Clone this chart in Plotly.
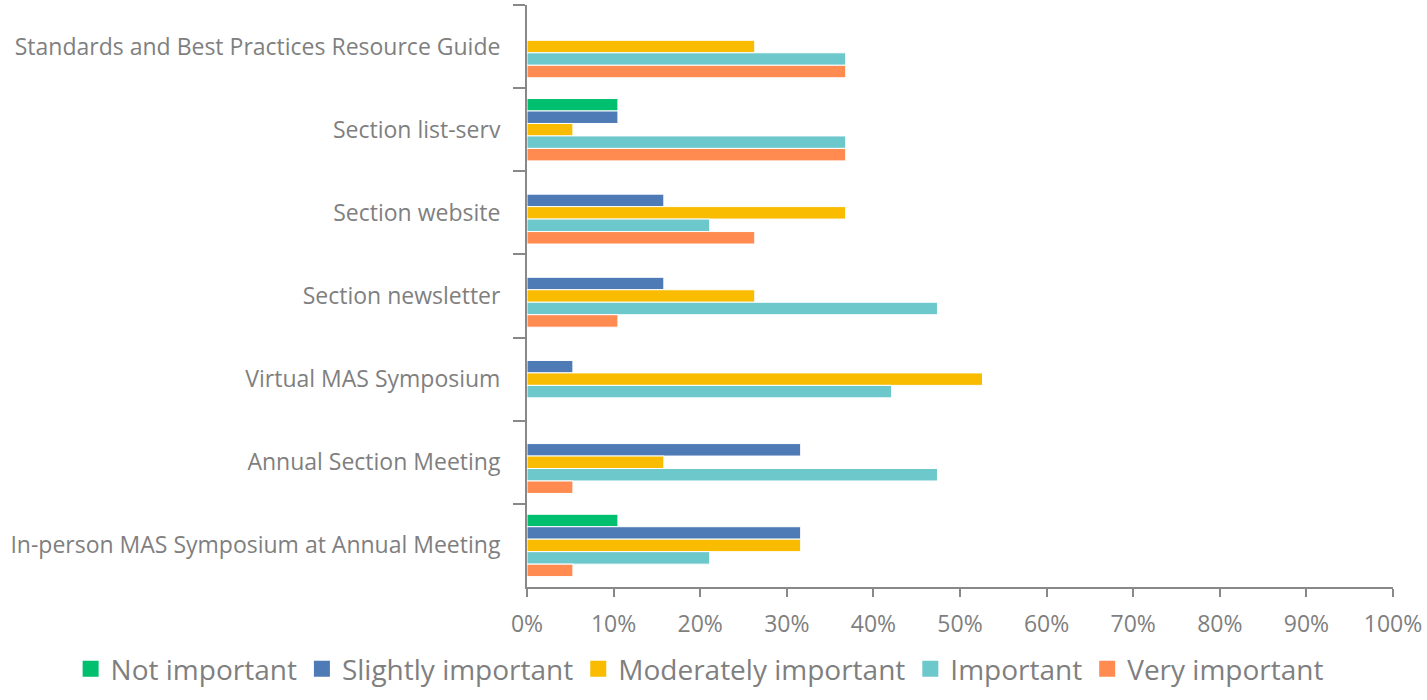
import plotly.graph_objects as go

categories = [
    "Standards and Best Practices Resource Guide",
    "Section list-serv",
    "Section website",
    "Section newsletter",
    "Virtual MAS Symposium",
    "Annual Section Meeting",
    "In-person MAS Symposium at Annual Meeting",
]
not_important = [0, 10.5, 0, 0, 0, 0, 10.5]
slightly_important = [0, 10.5, 15.8, 15.8, 5.3, 31.6, 31.6]
moderately_important = [26.3, 5.3, 36.8, 26.3, 52.6, 15.8, 31.6]
important = [36.8, 36.8, 21.1, 47.4, 42.1, 47.4, 21.1]
very_important = [36.8, 36.8, 26.3, 10.5, 0, 5.3, 5.3]

series = [
    ("Not important", not_important, "#00BF6F"),
    ("Slightly important", slightly_important, "#4E7AB5"),
    ("Moderately important", moderately_important, "#F9BC00"),
    ("Important", important, "#6CC8CB"),
    ("Very important", very_important, "#FF8B50"),
]

fig = go.Figure()
for name, vals, color in series:
    fig.add_trace(go.Bar(
        y=categories, x=[v / 100 for v in vals], name=name, orientation="h",
        marker=dict(color=color, line=dict(color="white", width=1)),
        legendgroup=name, showlegend=False,
    ))
# legend entries with larger square swatches
for name, vals, color in series:
    fig.add_trace(go.Scatter(
        x=[None], y=[None], mode="markers", name=name, legendgroup=name,
        marker=dict(symbol="square", size=16, color=color),
    ))

font_family = "'Open Sans', sans-serif"
fig.update_layout(
    width=1427, height=700,
    barmode="group", bargap=0.25, bargroupgap=0.0,
    plot_bgcolor="white", paper_bgcolor="white",
    margin=dict(l=527, r=32, t=5, b=113),
    font=dict(family=font_family, color="#7F7F7F"),
    xaxis=dict(
        range=[0, 1], tickformat=".0%", dtick=0.1, showgrid=False, zeroline=False,
        showline=True, linecolor="#888888", linewidth=2,
        ticks="outside", ticklen=8, tickcolor="#888888", tickwidth=2,
        tickfont=dict(size=23, color="#7F7F7F"), ticklabelstandoff=7,
    ),
    yaxis=dict(
        autorange="reversed", showgrid=False, showline=True, linecolor="#888888", linewidth=2,
        ticks="outside", ticklen=12, tickcolor="#888888", tickwidth=2, tickson="boundaries",
        tickfont=dict(size=23, color="#7F7F7F"), ticklabelstandoff=20,
    ),
    legend=dict(
        orientation="h", x=-0.527, xanchor="left",
        y=-0.098, yanchor="top", font=dict(size=28, color="#7F7F7F"),
    ),
)

fig.write_html("out.html", post_script="document.body.style.margin='0';",
               config={"displayModeBar": False})
